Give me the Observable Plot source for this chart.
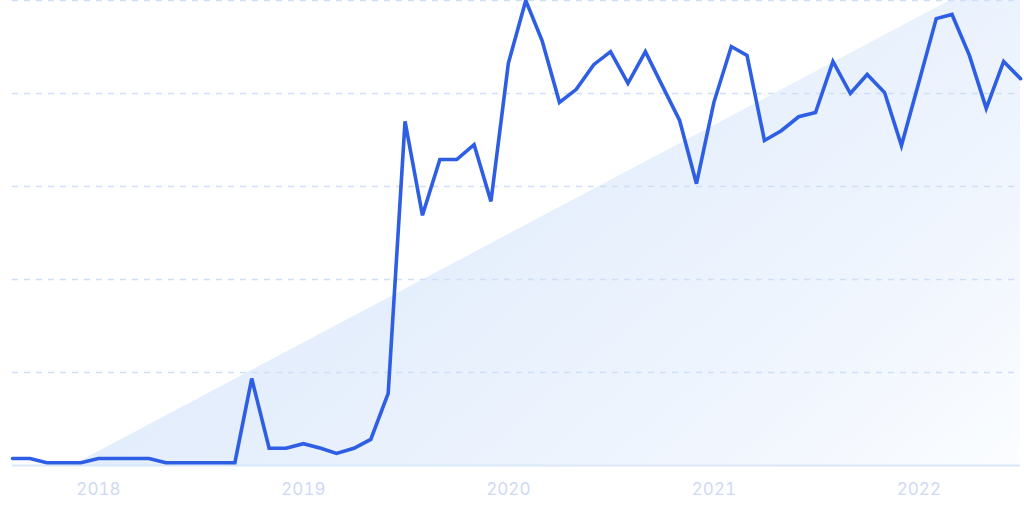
<!DOCTYPE html>
<html>
<head>
<meta charset="utf-8">
<script src="https://cdn.jsdelivr.net/npm/d3@7"></script>
<script src="https://cdn.jsdelivr.net/npm/@observablehq/plot@0.6"></script>
<style>
  html, body { margin: 0; padding: 0; background: #ffffff; }
  #wrap { position: relative; width: 1024px; height: 511px; overflow: hidden; }
  #bg {
    position: absolute; left: 0; top: 0; width: 1024px; height: 465px;
    background: linear-gradient(140deg, #dbe8fb 0%, #e4eefc 45%, #f1f6fe 80%, #fbfdff 100%);
    clip-path: polygon(72px 465px, 950px 0px, 1020px 0px, 1020px 465px);
  }
  #chart { position: absolute; left: 0; top: 0; }
</style>
</head>
<body>
<div id="wrap"><div id="bg"></div><div id="chart"></div></div>
<script>
// Monthly values, Aug 2017 .. Jul 2022 (0-100 interest index)
const startMonth = "2017-08";
const values = [
  1.5, 1.5, 0.6, 0.6, 0.6,            // Aug-Dec 2017
  1.5, 1.5, 1.5, 1.5, 0.6, 0.6, 0.6, 0.6, 0.6, 18.7, 3.7, 3.7,   // 2018
  4.7, 3.7, 2.6, 3.7, 5.6, 15.5, 74, 53.8, 65.8, 65.8, 69, 56.8, // 2019
  86.5, 100, 91.4, 78.1, 80.9, 86.2, 89, 82.2, 89, 81.7, 74.2, 60.6, // 2020
  78.1, 90.1, 88.2, 69.9, 72, 75, 75.9, 86.9, 80, 84.1, 80.2, 68.8,  // 2021
  82.4, 96.1, 97, 88.2, 76.8, 86.9, 83.2  // Jan-Jul 2022
];
const gridValues = [20, 40, 60, 80, 100];
const tickYears = ["2018", "2019", "2020", "2021", "2022"];

const start = new Date(startMonth + "-01T00:00:00");
const data = values.map((v, i) => ({ date: d3.timeMonth.offset(start, i), value: v }));
const tickDates = tickYears.map(y => new Date(y + "-01-01T00:00:00"));

const chart = Plot.plot({
  width: 1024,
  height: 511,
  marginLeft: 12,
  marginRight: 4,
  marginTop: 0,
  marginBottom: 46,
  style: { background: "transparent", fontFamily: "Inter, 'Open Sans', sans-serif" },
  x: { type: "time", domain: [data[0].date, data[data.length - 1].date], label: null },
  y: { domain: [0, 100], axis: null },
  marks: [
    Plot.ruleY(gridValues, { stroke: "#cfdff6", strokeWidth: 1.3, strokeDasharray: "6,6", x1: () => data[0].date, x2: () => data[data.length-1].date }),
    Plot.ruleY([0], { stroke: "#d9e7fb", strokeWidth: 2 }),
    Plot.line(data, { x: "date", y: "value", stroke: "#2d5ee3", strokeWidth: 3.6, strokeLinejoin: "miter", strokeMiterlimit: 4 }),
    Plot.axisX(tickDates, { tickSize: 0, tickPadding: 17, tickFormat: d3.timeFormat("%Y"), fill: "#d0d9f4", fontSize: 17, label: null })
  ]
});
document.getElementById("chart").appendChild(chart);
</script>
</body>
</html>
